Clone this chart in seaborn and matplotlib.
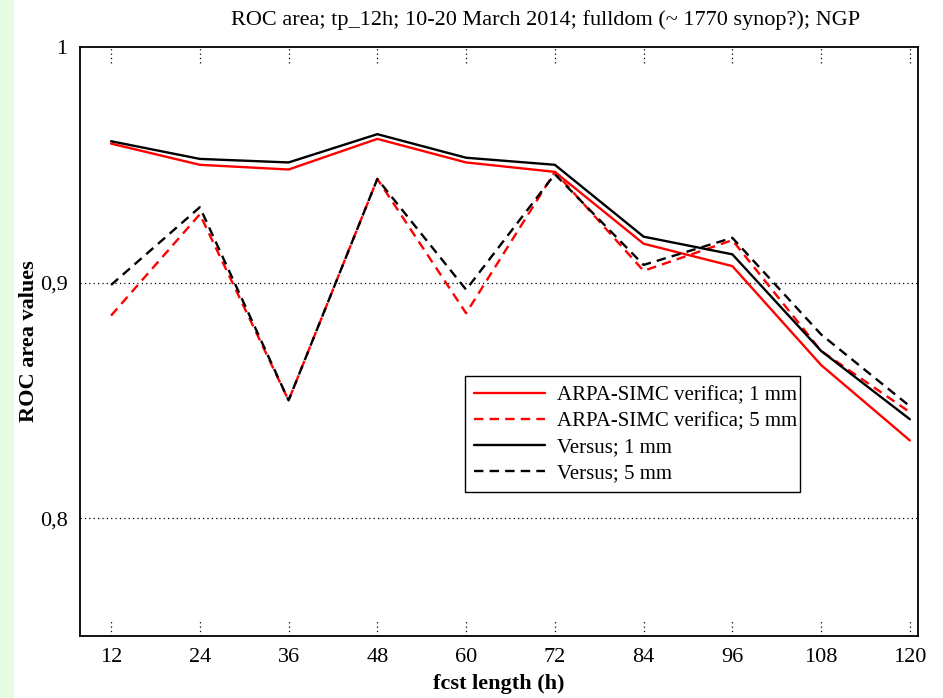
import matplotlib
matplotlib.use("Agg")
import matplotlib.pyplot as plt
import matplotlib.transforms as mtransforms
from matplotlib.patches import Rectangle
import seaborn as sns
import pandas as pd

fcst_hours = [12, 24, 36, 48, 60, 72, 84, 96, 108, 120]
arpa_1mm = [0.959, 0.950, 0.948, 0.961, 0.951, 0.947, 0.9165, 0.907, 0.865, 0.833]
arpa_5mm = [0.886, 0.929, 0.850, 0.944, 0.887, 0.947, 0.905, 0.918, 0.871, 0.845]
versus_1mm = [0.960, 0.9525, 0.951, 0.963, 0.953, 0.950, 0.9195, 0.912, 0.871, 0.842]
versus_5mm = [0.899, 0.932, 0.850, 0.944, 0.897, 0.946, 0.9075, 0.919, 0.878, 0.8475]
series_names = ["ARPA-SIMC verifica; 1 mm", "ARPA-SIMC verifica; 5 mm",
                "Versus; 1 mm", "Versus; 5 mm"]
x_tick_labels = ["12", "24", "36", "48", "60", "72", "84", "96", "108", "120"]
y_ticks = [0.8, 0.9, 1.0]
y_tick_labels = ["0,8", "0,9", "1"]

rows = []
for name, vals in zip(series_names, [arpa_1mm, arpa_5mm, versus_1mm, versus_5mm]):
    for h, v in zip(fcst_hours, vals):
        rows.append({"fcst": h, "roc": v, "series": name})
df = pd.DataFrame(rows)

sns.set_theme(style="white")
plt.rcParams['font.family'] = ['Liberation Serif', 'DejaVu Serif']
plt.rcParams['text.color'] = 'black'
plt.rcParams['axes.labelcolor'] = 'black'

fig = plt.figure(figsize=(9.43, 6.98), dpi=100)
fig.patch.set_facecolor("white")
fig.patches.append(Rectangle((0, 0), 14 / 943, 1, transform=fig.transFigure,
                             facecolor="#e6fbe0", edgecolor="none", zorder=0))
ax = fig.add_axes([80 / 943, 1 - 636 / 698, 838 / 943, 589 / 698])

palette = {series_names[0]: "#ff0000", series_names[1]: "#ff0000",
           series_names[2]: "#000000", series_names[3]: "#000000"}
dashes = {series_names[0]: "", series_names[1]: (4, 2.6),
          series_names[2]: "", series_names[3]: (4, 2.6)}
sns.lineplot(data=df, x="fcst", y="roc", hue="series", style="series",
             hue_order=series_names, style_order=series_names,
             palette=palette, dashes=dashes, linewidth=1.7, ax=ax,
             estimator=None, zorder=3)

ax.set_xlim(7.8, 121.1)
ax.set_ylim(0.75, 1.0)
ax.set_xticks(fcst_hours)
ax.set_xticklabels(x_tick_labels, fontsize=16)
ax.set_yticks(y_ticks)
ax.set_yticklabels(y_tick_labels, fontsize=16)
ax.tick_params(axis="both", length=0, pad=9, colors="black")

for y in [0.8, 0.9]:
    ax.axhline(y, color="black", linestyle=(0, (1, 2.5)), linewidth=0.9, zorder=1)
trans = mtransforms.blended_transform_factory(ax.transData, ax.transAxes)
for h in fcst_hours:
    ax.plot([h, h], [0.0, 0.028], transform=trans, color="black",
            linestyle=(0, (1, 2.5)), linewidth=0.9, zorder=1)
    ax.plot([h, h], [0.972, 1.0], transform=trans, color="black",
            linestyle=(0, (1, 2.5)), linewidth=0.9, zorder=1)

for s in ax.spines.values():
    s.set_color("black")
    s.set_linewidth(1.3)

ax.set_xlabel("fcst length (h)", fontsize=16, fontweight="bold", labelpad=5)
ax.set_ylabel("ROC area values", fontsize=16, fontweight="bold")
ax.yaxis.set_label_coords(-0.049, 0.5)
ax.set_title("ROC area; tp_12h; 10-20 March 2014; fulldom (~ 1770 synop?); NGP",
             fontsize=16, pad=16, x=0.555, color="black")

leg = ax.legend(loc="lower left", bbox_to_anchor=(0.459, 0.244, 0.40, 0.194),
                mode="expand", fontsize=15, frameon=True, fancybox=False,
                handlelength=3.4, borderpad=0.45, labelspacing=0.3,
                handletextpad=0.6, borderaxespad=0)
leg.get_frame().set_edgecolor("black")
leg.get_frame().set_linewidth(1.0)
leg.get_frame().set_alpha(1)
for t in leg.get_texts():
    t.set_color("black")

fig.savefig("out.png", dpi=100)
